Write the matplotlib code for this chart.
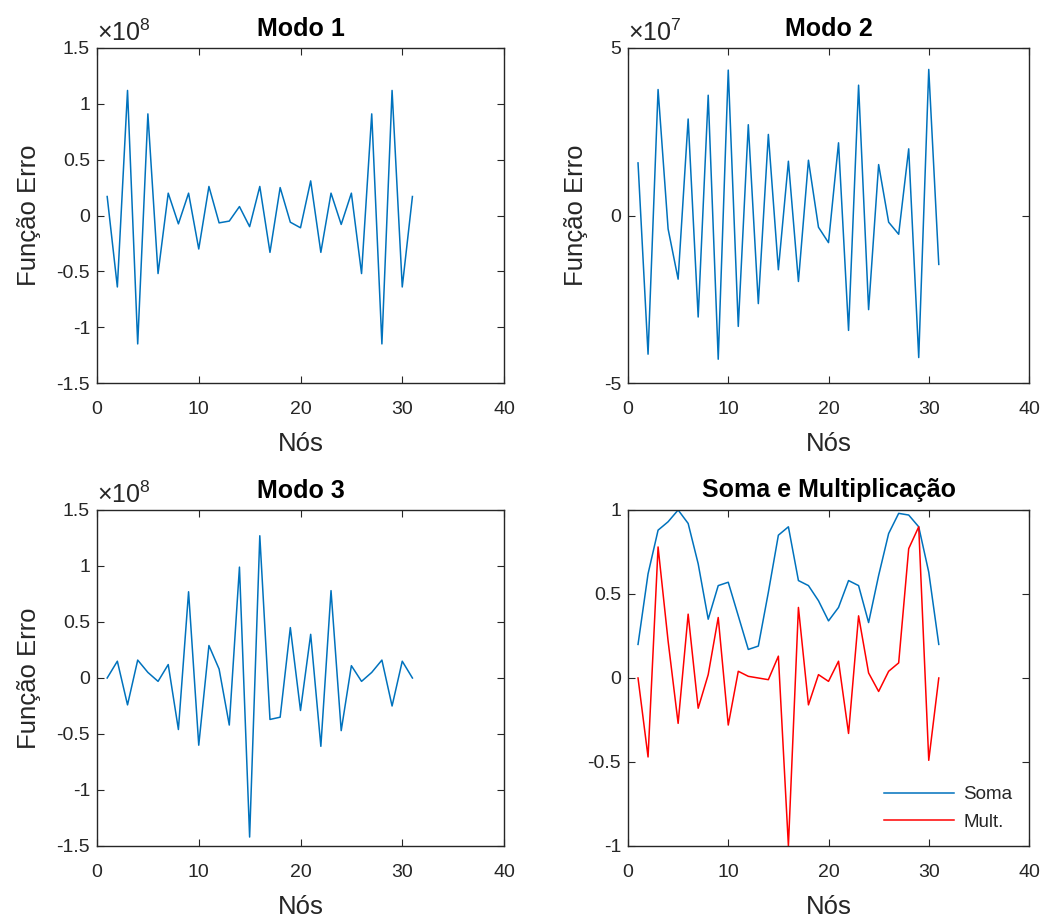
import numpy as np
import matplotlib
matplotlib.use("Agg")
import matplotlib.pyplot as plt
from matplotlib.ticker import FuncFormatter

plt.rcParams['font.family'] = ['Liberation Sans', 'DejaVu Sans']
plt.rcParams['mathtext.fontset'] = 'custom'
plt.rcParams['mathtext.rm'] = 'Liberation Sans'
plt.rcParams['mathtext.it'] = 'Liberation Sans:italic'
plt.rcParams['axes.unicode_minus'] = False

# nós 1..31
nos = np.arange(1, 32)

# Modo 1 (x 1e8)
modo1 = [0.17, -0.64, 1.12, -1.15, 0.91, -0.52, 0.20, -0.075, 0.20, -0.30,
         0.26, -0.066, -0.05, 0.08, -0.10, 0.26, -0.33, 0.25, -0.06, -0.11,
         0.31, -0.33, 0.20, -0.08, 0.20, -0.52, 0.91, -1.15, 1.12, -0.64, 0.17]
# Modo 2 (x 1e7)
modo2 = [1.57, -4.14, 3.76, -0.40, -1.90, 2.88, -3.03, 3.59, -4.29, 4.34,
         -3.31, 2.71, -2.63, 2.42, -1.62, 1.62, -1.97, 1.65, -0.35, -0.81,
         2.17, -3.43, 3.89, -2.81, 1.52, -0.20, -0.56, 1.99, -4.24, 4.36, -1.46]
# Modo 3 (x 1e8)
modo3 = [0.0, 0.15, -0.24, 0.16, 0.05, -0.03, 0.12, -0.46, 0.77, -0.60,
         0.29, 0.08, -0.42, 0.99, -1.42, 1.27, -0.37, -0.35, 0.45, -0.29,
         0.39, -0.61, 0.78, -0.47, 0.11, -0.03, 0.05, 0.16, -0.25, 0.15, 0.0]
soma = [0.20, 0.62, 0.88, 0.93, 1.0, 0.92, 0.68, 0.35, 0.55, 0.57,
        0.37, 0.17, 0.19, 0.51, 0.85, 0.90, 0.58, 0.55, 0.46, 0.34,
        0.42, 0.58, 0.55, 0.33, 0.61, 0.86, 0.98, 0.97, 0.90, 0.63, 0.20]
mult = [0.0, -0.47, 0.78, 0.22, -0.27, 0.38, -0.18, 0.02, 0.36, -0.28,
        0.04, 0.01, 0.0, -0.01, 0.13, -1.0, 0.42, -0.16, 0.02, -0.02,
        0.10, -0.33, 0.37, 0.03, -0.08, 0.04, 0.09, 0.77, 0.90, -0.49, 0.0]

azul = '#0072BD'
cinza = '#262626'
W, H = 1051, 918

fig = plt.figure(figsize=(W / 100, H / 100), dpi=100)


def make_ax(l, t, r, b):
    ax = fig.add_axes([l / W, 1 - b / H, (r - l) / W, (b - t) / H])
    for s in ax.spines.values():
        s.set_color(cinza)
        s.set_linewidth(1.0)
    ax.tick_params(direction='in', top=True, right=True, length=5,
                   labelsize=14, colors=cinza, labelcolor=cinza)
    ax.tick_params(axis='x', pad=13)
    ax.tick_params(axis='y', pad=5)
    ax.set_xlim(0, 40)
    ax.set_xticks([0, 10, 20, 30, 40])
    ax.set_xlabel('Nós', fontsize=18.5, color=cinza, labelpad=10)
    return ax


def fmt(scale):
    return FuncFormatter(lambda v, p: '%g' % round(v / scale, 6))


def modo_panel(ax, vals, scale, expo, lim, step, title):
    ax.plot(nos, np.array(vals) * scale, color=azul, lw=1.1)
    ax.set_ylim(-lim * scale, lim * scale)
    ax.set_yticks(np.arange(-lim, lim + step / 2, step) * scale)
    ax.yaxis.set_major_formatter(fmt(scale))
    ax.set_ylabel('Função Erro', fontsize=18.5, color=cinza, labelpad=11)
    ax.set_title(title, fontsize=18, fontweight='bold', pad=9)
    ax.text(0, 1.005, r'$\times 10^{%d}$' % expo, transform=ax.transAxes,
            ha='left', va='bottom', fontsize=18, color=cinza)


ax1 = make_ax(97, 48, 504, 383)
modo_panel(ax1, modo1, 1e8, 8, 1.5, 0.5, 'Modo 1')

ax2 = make_ax(628, 48, 1029, 383)
modo_panel(ax2, modo2, 1e7, 7, 5, 5, 'Modo 2')

ax3 = make_ax(97, 510, 504, 846)
modo_panel(ax3, modo3, 1e8, 8, 1.5, 0.5, 'Modo 3')

ax4 = make_ax(628, 510, 1029, 846)
ax4.plot(nos, soma, color=azul, lw=1.1, label='Soma')
ax4.plot(nos, mult, color='red', lw=1.1, label='Mult.')
ax4.set_ylim(-1, 1)
ax4.set_yticks([-1, -0.5, 0, 0.5, 1])
ax4.yaxis.set_major_formatter(FuncFormatter(lambda v, p: '%g' % v))
ax4.set_title('Soma e Multiplicação', fontsize=18, fontweight='bold', pad=9)
ax4.legend(loc='lower right', bbox_to_anchor=(0.958, 0.045), frameon=False,
           fontsize=13.5, handlelength=3.7, handletextpad=0.5, labelspacing=0.55,
           borderpad=0, borderaxespad=0, labelcolor=cinza)

fig.savefig('out.png', dpi=100, facecolor='white')
